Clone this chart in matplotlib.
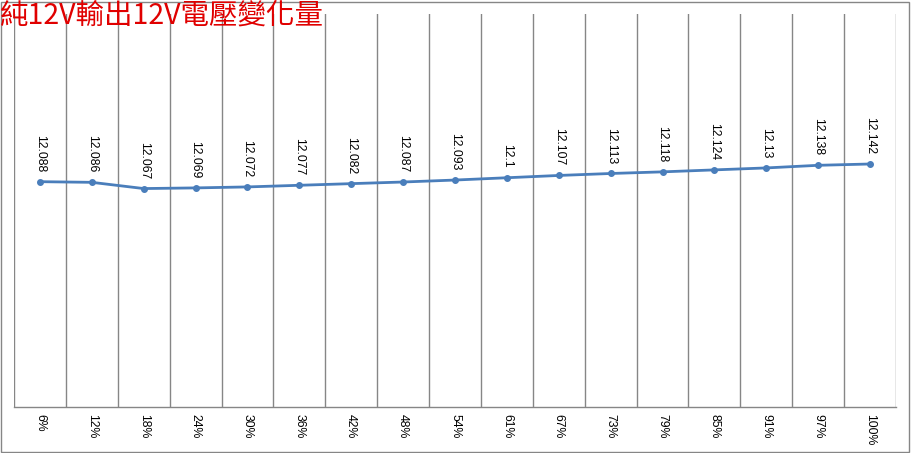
import matplotlib.pyplot as plt
from matplotlib.patches import Rectangle

# 輸出負載百分比
loads = ["6%", "12%", "18%", "24%", "30%", "36%", "42%", "48%", "54%",
         "61%", "67%", "73%", "79%", "85%", "91%", "97%", "100%"]
# 12V 電壓
volts = [12.088, 12.086, 12.067, 12.069, 12.072, 12.077, 12.082, 12.087, 12.093,
         12.1, 12.107, 12.113, 12.118, 12.124, 12.13, 12.138, 12.142]
title = "純12V輸出12V電壓變化量"

plt.rcParams['font.family'] = ['Liberation Sans', 'DejaVu Sans']

W, H = 913, 453
fig = plt.figure(figsize=(W / 100, H / 100), dpi=100)
# plot area in pixels: left 14, right 896, top 14, bottom 407
ax = fig.add_axes([14 / W, 1 - 407 / H, (896 - 14) / W, (407 - 14) / H])

x = list(range(len(loads)))
ax.plot(x, volts, color="#4a7ebb", lw=2, marker="o", ms=4, zorder=3)
for xi, v in zip(x, volts):
    ax.annotate(f"{v:g}", (xi, v), xytext=(0, 7), textcoords="offset points",
                rotation=270, ha="center", va="bottom", fontsize=8.8, color="black")

ax.set_xlim(-0.5, len(loads) - 0.5)
ax.set_ylim(11.4, 12.6)
for b in range(len(loads) + 1):
    ax.axvline(b - 0.5, color="#868686", lw=1, zorder=1)

ax.set_xticks(x)
ax.set_xticklabels(loads, rotation=270, fontsize=8.8)
ax.tick_params(axis="x", length=0, pad=5)
ax.set_yticks([])
for s in ["top", "right", "left"]:
    ax.spines[s].set_visible(False)
ax.spines["bottom"].set_color("#868686")
ax.spines["bottom"].set_linewidth(1)

fig.text(0, 1 - 0.5 / H, title, color="#e00000", fontsize=20.5, ha="left", va="top",
         family=["Noto Sans CJK TC", "DejaVu Sans"])

# outer chart border
fig.patches.append(Rectangle((0.5 / W, 1 - 451.5 / H), 908.5 / W, 450 / H,
                             transform=fig.transFigure, fill=False,
                             edgecolor="#868686", lw=1))

fig.savefig("out.png", dpi=100)
